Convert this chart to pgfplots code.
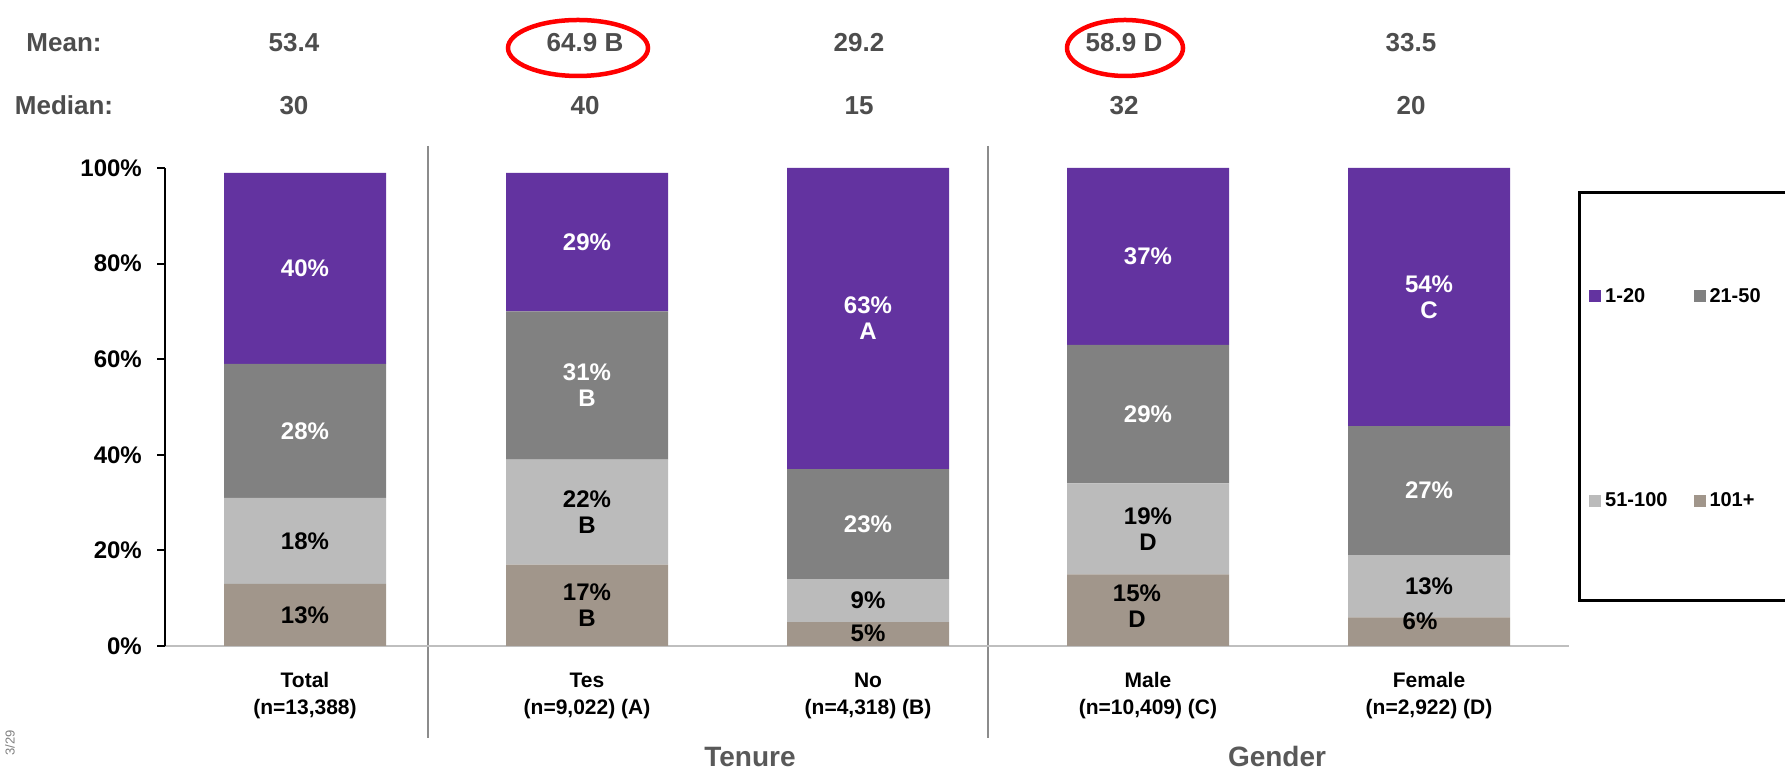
\documentclass[border=0pt]{standalone}
\usepackage{pgfplots}
\pgfplotsset{compat=1.18}
\usepackage{fontspec}
\setmainfont{Liberation Sans}
\definecolor{cPurple}{RGB}{99,51,160}
\definecolor{cDark}{RGB}{129,129,129}
\definecolor{cLight}{RGB}{187,187,187}
\definecolor{cTaupe}{RGB}{161,150,139}
\definecolor{axgray}{RGB}{191,191,191}
\definecolor{sepgray}{RGB}{140,140,140}
\definecolor{txtgray}{RGB}{77,77,77}
\definecolor{grpgray}{RGB}{89,89,89}
\newcommand{\fs}[1]{\fontsize{#1}{#1}\selectfont\bfseries}
\newcommand{\fsl}[2]{\fontsize{#1}{#2}\selectfont\bfseries}
\tikzset{bl/.style={font=\fsl{24}{26}, align=center, inner sep=0pt}}
\begin{document}
\begin{tikzpicture}[x=1pt,y=1pt]
\useasboundingbox (0,0) rectangle (1785,770);
% separators
\draw[line width=2pt, sepgray] (428,624) -- (428,32);
\draw[line width=2pt, sepgray] (988,624) -- (988,32);
\begin{axis}[
  at={(165pt,124pt)}, anchor=south west,
  scale only axis, width=1404pt, height=478pt,
  xmin=165, xmax=1569, ymin=0, ymax=100,
  ybar stacked, bar width=162,
  axis lines=left,
  x axis line style={draw=axgray, line width=2pt, -},
  y axis line style={draw=black, line width=2pt, -},
  xtick=\empty,
  ytick={0,20,40,60,80,100},
  yticklabel={\pgfmathprintnumber{\tick}\%},
  /pgf/number format/assume math mode=true,
  yticklabel style={font=\fs{24}, text=black, inner sep=0pt, anchor=east, xshift=-15pt},
  tick align=outside, major tick length=8pt,
  ytick style={line width=2pt, black},
  clip=false,
  legend columns=2, reverse legend,
  legend style={at={(1.01425,0.5178)}, anchor=west,
    draw=none, fill=none, inner sep=0pt,
    font=\fs{20},
    nodes={inner sep=0pt, anchor=west},
    column sep=4pt,
    /tikz/every even column/.append style={column sep=26pt},
    row sep=189pt},
]
\addplot[fill=cTaupe, draw=none, legend image code/.code={\fill[cTaupe] (0pt,-6pt) rectangle (12pt,6pt);}]
  coordinates {(305,13) (587,17) (868,5) (1148,15) (1429,6)};
\addlegendentry{101+}
\addplot[fill=cLight, draw=none, legend image code/.code={\fill[cLight] (0pt,-6pt) rectangle (12pt,6pt);}]
  coordinates {(305,18) (587,22) (868,9) (1148,19) (1429,13)};
\addlegendentry{51-100}
\addplot[fill=cDark, draw=none, legend image code/.code={\fill[cDark] (0pt,-6pt) rectangle (12pt,6pt);}]
  coordinates {(305,28) (587,31) (868,23) (1148,29) (1429,27)};
\addlegendentry{21-50}
\addplot[fill=cPurple, draw=none, legend image code/.code={\fill[cPurple] (0pt,-6pt) rectangle (12pt,6pt);}]
  coordinates {(305,40) (587,29) (868,63) (1148,37) (1429,54)};
\addlegendentry{1-20}
% label anchors
\coordinate (a1) at (axis cs:305,6.5);
\coordinate (a2) at (axis cs:305,22);
\coordinate (a3) at (axis cs:305,45);
\coordinate (a4) at (axis cs:305,79);
\coordinate (b1) at (axis cs:587,8.6);
\coordinate (b2) at (axis cs:587,28);
\coordinate (b3) at (axis cs:587,54.5);
\coordinate (b4) at (axis cs:587,84.5);
\coordinate (c1) at (axis cs:868,2.7);
\coordinate (c2) at (axis cs:868,9.5);
\coordinate (c3) at (axis cs:868,25.5);
\coordinate (c4) at (axis cs:868,68.5);
\coordinate (d1) at (axis cs:1137,8.4);
\coordinate (d2) at (axis cs:1148,24.4);
\coordinate (d3) at (axis cs:1148,48.5);
\coordinate (d4) at (axis cs:1148,81.5);
\coordinate (e1) at (axis cs:1420,5.1);
\coordinate (e2) at (axis cs:1429,12.5);
\coordinate (e3) at (axis cs:1429,32.5);
\coordinate (e4) at (axis cs:1429,73);
\end{axis}
% bar labels
\node[bl, text=black] at (a1) {13\%};
\node[bl, text=black] at (a2) {18\%};
\node[bl, text=white] at (a3) {28\%};
\node[bl, text=white] at (a4) {40\%};
\node[bl, text=black] at (b1) {17\%\\B};
\node[bl, text=black] at (b2) {22\%\\B};
\node[bl, text=white] at (b3) {31\%\\B};
\node[bl, text=white] at (b4) {29\%};
\node[bl, text=black] at (c1) {5\%};
\node[bl, text=black] at (c2) {9\%};
\node[bl, text=white] at (c3) {23\%};
\node[bl, text=white] at (c4) {63\%\\A};
\node[bl, text=black] at (d1) {15\%\\D};
\node[bl, text=black] at (d2) {19\%\\D};
\node[bl, text=white] at (d3) {29\%};
\node[bl, text=white] at (d4) {37\%};
\node[bl, text=black] at (e1) {6\%};
\node[bl, text=black] at (e2) {13\%};
\node[bl, text=white] at (e3) {27\%};
\node[bl, text=white] at (e4) {54\%\\C};
% legend frame
\draw[line width=3pt] (1579,577) rectangle (1815,169);
% mean / median
\tikzset{mm/.style={anchor=base, text=txtgray, font=\fs{26}, inner sep=0pt}}
\node[mm] at (64,718) {Mean:};
\node[mm] at (64,655) {Median:};
\node[mm] at (294,718) {53.4};
\node[mm] at (585,718) {64.9 B};
\node[mm] at (859,718) {29.2};
\node[mm] at (1124,718) {58.9 D};
\node[mm] at (1411,718) {33.5};
\node[mm] at (294,655) {30};
\node[mm] at (585,655) {40};
\node[mm] at (859,655) {15};
\node[mm] at (1124,655) {32};
\node[mm] at (1411,655) {20};
\draw[red, line width=4.5pt] (578,722) ellipse [x radius=70, y radius=28];
\draw[red, line width=4.5pt] (1125,722) ellipse [x radius=58, y radius=28];
% category labels
\tikzset{cl/.style={anchor=base, text=black, font=\fs{21}, inner sep=0pt}}
\node[cl] at (305,82) {Total};
\node[cl] at (305,55) {(n=13,388)};
\node[cl] at (587,82) {Tes};
\node[cl] at (587,55) {(n=9,022) (A)};
\node[cl] at (868,82) {No};
\node[cl] at (868,55) {(n=4,318) (B)};
\node[cl] at (1148,82) {Male};
\node[cl] at (1148,55) {(n=10,409) (C)};
\node[cl] at (1429,82) {Female};
\node[cl] at (1429,55) {(n=2,922) (D)};
\node[anchor=base, text=grpgray, font=\fs{28}, inner sep=0pt] at (750,3) {Tenure};
\node[anchor=base, text=grpgray, font=\fs{28}, inner sep=0pt] at (1277,3) {Gender};
\node[rotate=90, anchor=east, text=gray, font=\fontsize{13}{13}\selectfont, inner sep=0pt] at (10,40) {3/29};
\end{tikzpicture}
\end{document}
